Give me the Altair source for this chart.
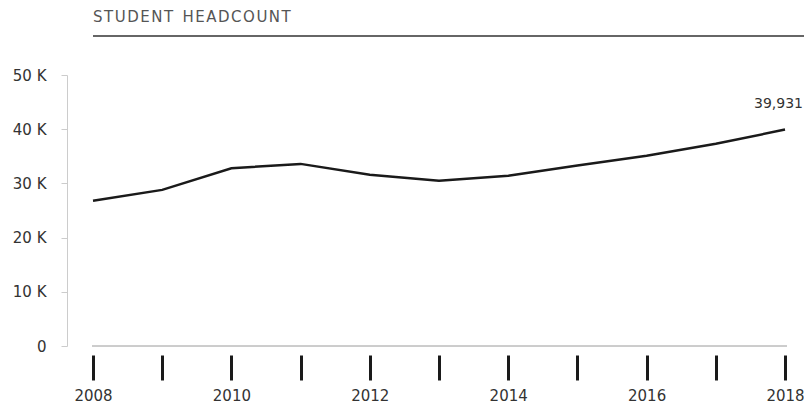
import altair as alt
import pandas as pd

years = [2008, 2009, 2010, 2011, 2012, 2013, 2014, 2015, 2016, 2017, 2018]
headcount = [26800, 28800, 32800, 33600, 31600, 30500, 31400, 33300, 35100, 37300, 39931]

df = pd.DataFrame({"year": years, "headcount": headcount})
last = df.tail(1)

FONT = "DejaVu Sans"
W, H = 692, 271
TITLE = "\u200a".join("STUDENT") + "\u00a0\u00a0" + "\u200a".join("HEADCOUNT")

x = alt.X("year:Q",
          scale=alt.Scale(domain=[2008, 2018], nice=False, zero=False),
          axis=alt.Axis(values=years, title=None, domain=False, grid=False,
                        offset=9, tickSize=25, tickWidth=3, tickColor="#1a1a1a",
                        labelExpr="datum.value % 2 == 0 ? '' + datum.value : ''",
                        labelPadding=8, labelFont=FONT, labelFontSize=15,
                        labelColor="#333333", labelFlush=False))

y = alt.Y("headcount:Q",
          scale=alt.Scale(domain=[0, 50000], nice=False),
          axis=alt.Axis(values=list(range(0, 50001, 2500)), title=None, grid=False,
                        offset=26, tickSize=6, tickColor="#cccccc", domainColor="#cccccc",
                        labelExpr="datum.value % 10000 == 0 ? (datum.value == 0 ? '0' : (datum.value / 1000) + ' K') : ''",
                        labelPadding=15, labelFont=FONT, labelFontSize=15,
                        labelColor="#333333"))

line = alt.Chart(df).mark_line(color="#1a1a1a", strokeWidth=2.5).encode(x=x, y=y)

baseline = alt.Chart(df).mark_rule(color="#cccccc", strokeWidth=1).encode(
    x=alt.value(-1), x2=alt.value(W + 2), y=alt.value(H))

label = alt.Chart(last).mark_text(font=FONT, fontSize=14, color="#333333",
                                  align="right", dx=18, dy=-26).encode(
    x=alt.X("year:Q"), y=alt.Y("headcount:Q"),
    text=alt.Text("headcount:Q", format=","))

title = alt.Chart(last).mark_text(font=FONT, fontSize=15, color="#555555",
                                  align="left", baseline="middle").encode(
    x=alt.value(0), y=alt.value(-58), text=alt.value(TITLE))

title_rule = alt.Chart(last).mark_rule(color="#333333", strokeWidth=1.5).encode(
    x=alt.value(0), x2=alt.value(W + 40), y=alt.value(-39))

chart = alt.layer(baseline, line, label, title, title_rule).properties(
    width=W, height=H,
    autosize=alt.AutoSizeParams(type="none"),
    padding={"left": 85, "top": 67, "right": 19, "bottom": 58},
).configure_view(stroke=None)

chart.save("out.html", embed_options={"renderer": "svg", "actions": False})
